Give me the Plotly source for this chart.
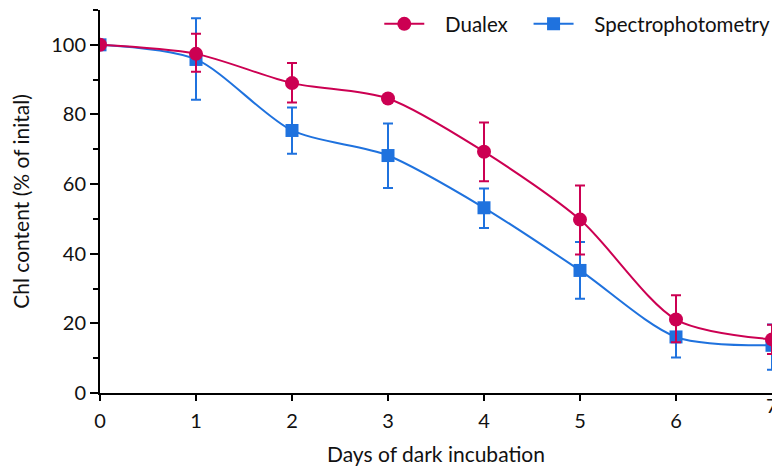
import plotly.graph_objects as go

days = [0, 1, 2, 3, 4, 5, 6, 7]
dualex = [100, 97.4, 89.0, 84.6, 69.3, 49.8, 21.1, 15.4]
dualex_err_plus = [0, 5.8, 5.8, 0.6, 8.4, 9.8, 7.0, 4.2]
dualex_err_minus = [0, 5.1, 5.6, 0.6, 8.5, 10.0, 6.5, 4.2]
spectro = [100, 95.8, 75.4, 68.2, 53.2, 35.2, 16.1, 13.7]
spectro_err_plus = [0, 11.8, 6.6, 9.2, 5.5, 8.2, 5.8, 6.0]
spectro_err_minus = [0, 11.6, 6.7, 9.3, 5.8, 8.1, 5.9, 7.0]
y_ticks = [0, 20, 40, 60, 80, 100]
y_minor = [10, 30, 50, 70, 90, 110]

red = "#CC0052"
blue = "#1F72DE"
font = "Lato"

fig = go.Figure()
fig.add_trace(go.Scatter(
    x=days, y=spectro, name="\u00a0\u00a0\u00a0Spectrophotometry", mode="lines+markers",
    line=dict(color=blue, width=2, shape="spline", smoothing=0.8),
    marker=dict(symbol="square", size=13, color=blue),
    error_y=dict(type="data", symmetric=False, array=spectro_err_plus,
                 arrayminus=spectro_err_minus, color=blue, thickness=2, width=5),
    legendrank=2,
))
fig.add_trace(go.Scatter(
    x=days, y=dualex, name="\u00a0\u00a0\u00a0Dualex\u00a0\u00a0\u00a0", mode="lines+markers",
    line=dict(color=red, width=2, shape="spline", smoothing=0.8),
    marker=dict(symbol="circle", size=14, color=red),
    error_y=dict(type="data", symmetric=False, array=dualex_err_plus,
                 arrayminus=dualex_err_minus, color=red, thickness=2, width=5),
    legendrank=1,
))

fig.add_annotation(x=7, y=0, xref="x", yref="paper", text="7", showarrow=False,
                   yshift=-26, font=dict(size=20, family=font, color="#111"))

fig.update_layout(
    width=772, height=469,
    margin=dict(l=100, r=0, t=10, b=76, autoexpand=False),
    plot_bgcolor="white", paper_bgcolor="white",
    font=dict(family=font, size=20, color="#111"),
    showlegend=True,
    legend=dict(orientation="h", x=(386 - 100) / 672 - 0.01, xref="paper", xanchor="left",
                y=1 - 24 / 469, yref="container", yanchor="middle",
                font=dict(size=20.5), bgcolor="rgba(0,0,0,0)", itemwidth=40),
    xaxis=dict(range=[0, 7], tickmode="array", tickvals=days[:-1],
               showline=True, linecolor="black", linewidth=2,
               ticks="outside", ticklen=6, tickwidth=2, tickcolor="black",
               ticklabelstandoff=3,
               showgrid=False, zeroline=False, automargin=False,
               title=dict(text="Days of dark incubation", font=dict(size=21), standoff=16)),
    yaxis=dict(range=[0, 110], tickmode="array", tickvals=y_ticks,
               showline=True, linecolor="black", linewidth=2,
               ticks="outside", ticklen=8, tickwidth=2, tickcolor="black",
               minor=dict(tickvals=y_minor, ticks="outside", ticklen=5,
                          tickwidth=2, tickcolor="black"),
               showgrid=False, zeroline=False, automargin=False,
               title=dict(text="Chl content (% of inital)", font=dict(size=21), standoff=16)),
)

fig.write_html("out.html")
